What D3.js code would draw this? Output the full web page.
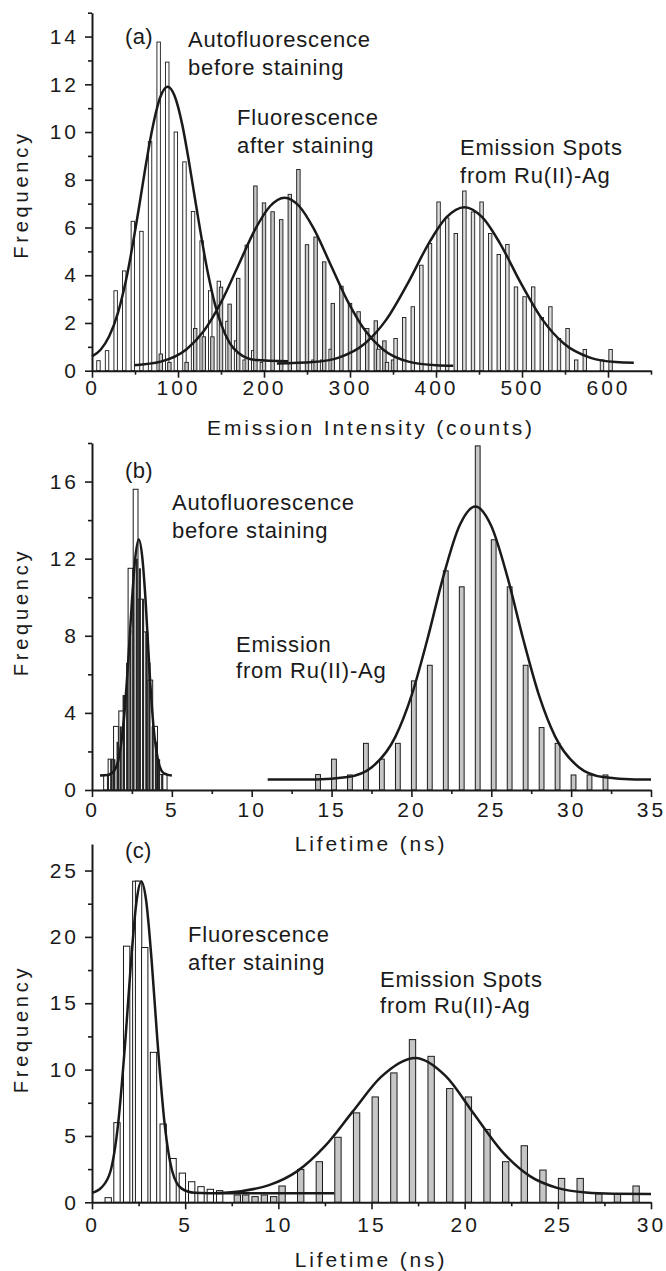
<!DOCTYPE html>
<html><head><meta charset="utf-8">
<script src="https://cdn.jsdelivr.net/npm/d3@7"></script>
<style>
body{margin:0;background:#fff;}
text{font-family:"Liberation Sans",Arial,Helvetica,sans-serif;fill:#1a1a1a;}
</style></head><body>
<svg id="chart" width="666" height="1271"></svg>
<script>
// ---------- Panel (a): emission intensity histograms ----------
const aAutoBins = [7.5,17.5,27.5,37.5,47.5,57.5,67.5,77.5,87.5,97.5,107.5,117.5,127.5,137.5,147.5,157.5,167.5,177.5,187.5,197.5,257.5,267.5,277.5];
const aAutoFreq = [0.42,0.84,3.35,4.18,6.26,5.84,9.6,13.77,12.93,10.0,8.75,6.67,5.44,3.35,3.75,2.07,1.25,0.45,0.84,0.35,0.45,0.45,0.9];
const aStainBins = [80,90,110,120,130,140,150,160,170,180,190,200,210,220,230,240,250,260,270,280,290,300,310,320,330,340,350];
const aStainFreq = [0.7,0.35,0.35,1.77,1.42,1.42,3.5,2.79,3.87,5.26,7.74,7.03,6.66,6.33,7.39,8.43,5.28,5.6,4.56,2.82,3.54,2.82,2.47,1.77,2.09,1.25,0.45];
const aSpotBins = [333,343,353,363,373,383,393,403,413,423,433,443,453,463,473,483,493,503,513,523,533,543,553,563,573,593,603];
const aSpotFreq = [0.9,0.35,1.35,2.23,2.68,4.42,5.33,7.07,6.4,5.75,7.53,6.65,7.07,5.75,4.87,5.29,3.51,3.1,3.51,2.23,2.68,1.35,1.77,0.45,0.89,0.45,0.89];
const aFitAuto = [[0,0.6],[10,0.88],[20,1.44],[30,2.4],[40,3.87],[55,6.92],[62,8.49],[70,10.11],[80,11.52],[88,11.9],[96,11.52],[105,10.3],[112,8.92],[120,7.15],[135,4.05],[143,2.78],[150,1.96],[160,1.17],[170,0.75],[190,0.45],[228,0.4]];
const aFitStain = [[49,0.23],[80,0.38],[110,0.9],[130,1.66],[150,2.86],[170,4.4],[190,5.94],[207,6.89],[224,7.25],[241,6.89],[258,5.94],[278,4.4],[298,2.86],[318,1.66],[338,0.9],[368,0.38],[400,0.23],[420,0.21]];
const aFitSpot = [[215,0.3],[257,0.36],[287,0.55],[317,1.13],[342,2.13],[367,3.65],[392,5.36],[412,6.42],[433,6.85],[454,6.42],[474,5.36],[499,3.65],[524,2.13],[549,1.13],[579,0.55],[609,0.36],[630,0.33]];
const aXTicks = [0,100,200,300,400,500,600];
const aXMinor = [50,150,250,350,450,550,650];
const aYTicks = [0,2,4,6,8,10,12,14];
const aYMinor = [1,3,5,7,9,11,13,15];

// ---------- Panel (b): lifetime histograms ----------
const bAutoBins = [0.88,1.16,1.5,1.83,2.1,2.41,2.73,3.05,3.35,3.65,3.95,4.25,4.55];
const bAutoFreq = [0.8,1.6,3.3,4.1,4.9,11.5,15.6,9.9,8.2,5.7,3.3,0.8,0.8];
const bAutoFineBins = [1.0,1.2,1.4,1.6,1.8,2.0,2.2,2.4,2.6,2.8,3.0,3.2,3.4,3.6,3.8,4.0,4.2,4.4];
const bAutoFineFreq = [0.8,1.6,1.6,2.5,3.3,4.9,6.6,8.3,11.5,12.0,11.5,9.9,8.2,6.6,3.3,2.5,1.6,0.8];
const bSpotBins = [14.15,15.15,16.15,17.15,18.15,19.15,20.15,21.15,22.15,23.15,24.15,25.15,26.15,27.15,28.15,29.15,30.15,31.15,32.15];
const bSpotFreq = [0.8,1.6,0.78,2.42,1.6,2.42,5.66,6.47,11.37,10.54,17.85,12.98,10.54,6.47,3.24,2.42,0.78,0.78,0.78];
const bFitAuto = [[0.5,0.75],[1.0,0.78],[1.4,1.01],[1.7,1.75],[2.0,3.68],[2.25,6.46],[2.5,9.78],[2.7,11.97],[2.93,13.0],[3.15,12.06],[3.35,9.9],[3.6,6.2],[3.85,3.3],[4.1,1.7],[4.4,0.95],[4.7,0.8],[5.0,0.75]];
const bFitSpot = [[11,0.55],[14,0.55],[16,0.67],[17.5,1.17],[19,2.77],[20,4.88],[21,7.82],[22,11.08],[23,13.69],[24,14.7],[25,13.69],[26,11.08],[27,7.82],[28,4.88],[29,2.77],[30.5,1.17],[32,0.67],[34,0.55],[35,0.55]];
const bXTicks = [0,5,10,15,20,25,30,35];
const bXMinor = [2.5,7.5,12.5,17.5,22.5,27.5,32.5];
const bYTicks = [0,4,8,12,16];
const bYMinor = [2,6,10,14,18];

// ---------- Panel (c): lifetime histograms ----------
const cStainBins = [0.87,1.34,1.86,2.35,2.5,2.83,3.3,3.82,4.35,4.85,5.35,5.85,6.35,6.85];
const cStainFreq = [0.35,6.0,19.3,24.2,24.2,19.2,11.3,5.9,3.3,2.2,1.55,1.18,0.98,0.88];
const cSpotBins = [7.8,8.25,8.75,9.25,9.75,10.2,11.2,12.2,13.2,14.2,15.2,16.2,17.2,18.2,19.2,20.2,21.2,22.2,23.2,24.2,25.2,26.2,27.2,28.2,29.2];
const cSpotFreq = [0.55,0.55,0.43,0.55,0.43,1.23,2.48,3.06,4.9,6.74,7.94,9.75,12.26,11.0,8.57,7.94,5.49,3.06,4.26,2.43,1.8,1.8,0.63,0.63,1.23];
const cFitStain = [[0,0.71],[0.5,1.1],[1.0,2.38],[1.4,5.89],[1.8,12.39],[2.1,18.23],[2.4,22.8],[2.65,24.18],[2.9,22.8],[3.2,18.23],[3.5,12.39],[3.9,5.89],[4.3,2.38],[4.8,1.05],[5.5,0.72],[7,0.68],[13,0.68]];
const cFitSpot = [[6.7,0.7],[8,0.84],[9.5,1.29],[11,2.33],[12.5,4.23],[14,6.85],[15.5,9.43],[17.35,10.88],[19,9.49],[20.5,6.65],[22,3.84],[23.5,1.97],[25,1.07],[26.5,0.74],[28,0.65],[30,0.63]];
const cXTicks = [0,5,10,15,20,25,30];
const cXMinor = [2.5,7.5,12.5,17.5,22.5,27.5];
const cYTicks = [0,5,10,15,20,25];
const cYMinor = [2.5,7.5,12.5,17.5,22.5];

const svg = d3.select("#chart");
const INK = "#1a1a1a";
const GRAY = "#c6c6c6";

const panels = [
  {
    xDomain:[0,650], yDomain:[0,15], yBottom:370.7, yTop:12.7,
    bars:[
      {bins:aAutoBins, freq:aAutoFreq, w:4, fill:"#fff", stroke:INK, sw:0.9},
      {bins:aStainBins, freq:aStainFreq, w:4, fill:GRAY, stroke:INK, sw:0.9},
      {bins:aSpotBins, freq:aSpotFreq, w:4, fill:"#dedede", stroke:INK, sw:0.9}
    ],
    fits:[aFitAuto, aFitStain, aFitSpot],
    xTicks:aXTicks, xMinor:aXMinor, yTicks:aYTicks, yMinor:aYMinor, xPad:2.5,
    xTitle:"Emission Intensity (counts)", xTitleY:435, yTitleY:194.5,
    notes:[
      {t:"(a)", x:125, y:44},
      {t:"Autofluorescence", x:188, y:47},{t:"before staining", x:188, y:75},
      {t:"Fluorescence", x:237, y:125},{t:"after staining", x:237, y:153},
      {t:"Emission Spots", x:460, y:155},{t:"from Ru(II)-Ag", x:460, y:183}
    ]
  },
  {
    xDomain:[0,35], yDomain:[0,18], yBottom:790, yTop:443,
    bars:[
      {bins:bAutoBins, freq:bAutoFreq, w:0.3, fill:"#fff", stroke:INK, sw:1},
      {bins:bAutoFineBins, freq:bAutoFineFreq, w:0.13, fill:"#262626", stroke:"none", sw:0},
      {bins:bSpotBins, freq:bSpotFreq, w:0.3, fill:GRAY, stroke:INK, sw:1}
    ],
    fits:[bFitAuto, bFitSpot],
    xTicks:bXTicks, xMinor:bXMinor, yTicks:bYTicks, yMinor:bYMinor, xPad:4.7,
    xTitle:"Lifetime (ns)", xTitleY:851, yTitleY:612,
    notes:[
      {t:"(b)", x:125, y:478},
      {t:"Autofluorescence", x:172, y:510},{t:"before staining", x:172, y:538},
      {t:"Emission", x:236, y:652},{t:"from Ru(II)-Ag", x:236, y:678}
    ]
  },
  {
    xDomain:[0,30], yDomain:[0,27], yBottom:1202.3, yTop:844,
    bars:[
      {bins:cStainBins, freq:cStainFreq, w:0.34, fill:"#fff", stroke:INK, sw:1},
      {bins:cSpotBins, freq:cSpotFreq, w:0.34, fill:GRAY, stroke:INK, sw:1}
    ],
    fits:[cFitStain, cFitSpot],
    xTicks:cXTicks, xMinor:cXMinor, yTicks:cYTicks, yMinor:cYMinor, xPad:7.4,
    xTitle:"Lifetime (ns)", xTitleY:1267, yTitleY:1029,
    notes:[
      {t:"(c)", x:125, y:858},
      {t:"Fluorescence", x:188, y:942},{t:"after staining", x:188, y:970},
      {t:"Emission Spots", x:380, y:987},{t:"from Ru(II)-Ag", x:380, y:1013}
    ]
  }
];

panels.forEach(cfg => {
  const x = d3.scaleLinear().domain(cfg.xDomain).range([92, 651]);
  const y = d3.scaleLinear().domain(cfg.yDomain).range([cfg.yBottom, cfg.yTop]);
  const g = svg.append("g");

  cfg.bars.forEach(s => {
    const rows = d3.zip(s.bins, s.freq).filter(d => d[1] > 0);
    g.append("g").selectAll("rect").data(rows).join("rect")
      .attr("x", d => x(d[0] - s.w/2))
      .attr("width", d => x(d[0] + s.w/2) - x(d[0] - s.w/2))
      .attr("y", d => y(d[1]))
      .attr("height", d => y(0) - y(d[1]))
      .attr("fill", s.fill).attr("stroke", s.stroke).attr("stroke-width", s.sw);
  });

  const line = d3.line().x(d => x(d[0])).y(d => y(d[1])).curve(d3.curveMonotoneX);
  cfg.fits.forEach(f => {
    g.append("path").attr("d", line(f)).attr("fill", "none")
      .attr("stroke", INK).attr("stroke-width", 2.5).attr("stroke-linejoin","round");
  });

  g.append("g").attr("transform", `translate(0,${y(0)})`)
    .call(d3.axisBottom(x).tickValues(cfg.xTicks).tickSize(7).tickSizeOuter(0)
      .tickPadding(cfg.xPad).tickFormat(d3.format("d")));
  g.append("g").attr("transform", `translate(0,${y(0)})`)
    .call(d3.axisBottom(x).tickValues(cfg.xMinor).tickSize(4).tickFormat(""))
    .call(s => s.select(".domain").remove());
  g.append("g").attr("transform", `translate(92,0)`)
    .call(d3.axisLeft(y).tickValues(cfg.yTicks).tickSize(7).tickSizeOuter(0)
      .tickPadding(6).tickFormat(d3.format("d")));
  g.append("g").attr("transform", `translate(92,0)`)
    .call(d3.axisLeft(y).tickValues(cfg.yMinor).tickSize(4).tickFormat(""))
    .call(s => s.select(".domain").remove());

  g.selectAll(".domain").attr("stroke", INK).attr("stroke-width", 2);
  g.selectAll(".tick line").attr("stroke", INK).attr("stroke-width", 1.6);
  g.selectAll(".tick text").attr("font-family", '"Liberation Sans",Arial,sans-serif')
    .attr("font-size", 21).attr("letter-spacing", "3px").attr("fill", INK);

  g.append("text").attr("x", 371).attr("y", cfg.xTitleY).attr("text-anchor", "middle")
    .attr("font-size", 21).attr("letter-spacing", "2.85px").text(cfg.xTitle);
  g.append("text").attr("transform", `translate(28,${cfg.yTitleY}) rotate(-90)`)
    .attr("text-anchor", "middle").attr("font-size", 20).attr("letter-spacing", "3.8px")
    .text("Frequency");

  cfg.notes.forEach(n => {
    g.append("text").attr("x", n.x).attr("y", n.y).attr("font-size", 22)
      .attr("letter-spacing", n.t.length > 3 ? "0.8px" : "0.3px").text(n.t);
  });
});
</script>
</body></html>
